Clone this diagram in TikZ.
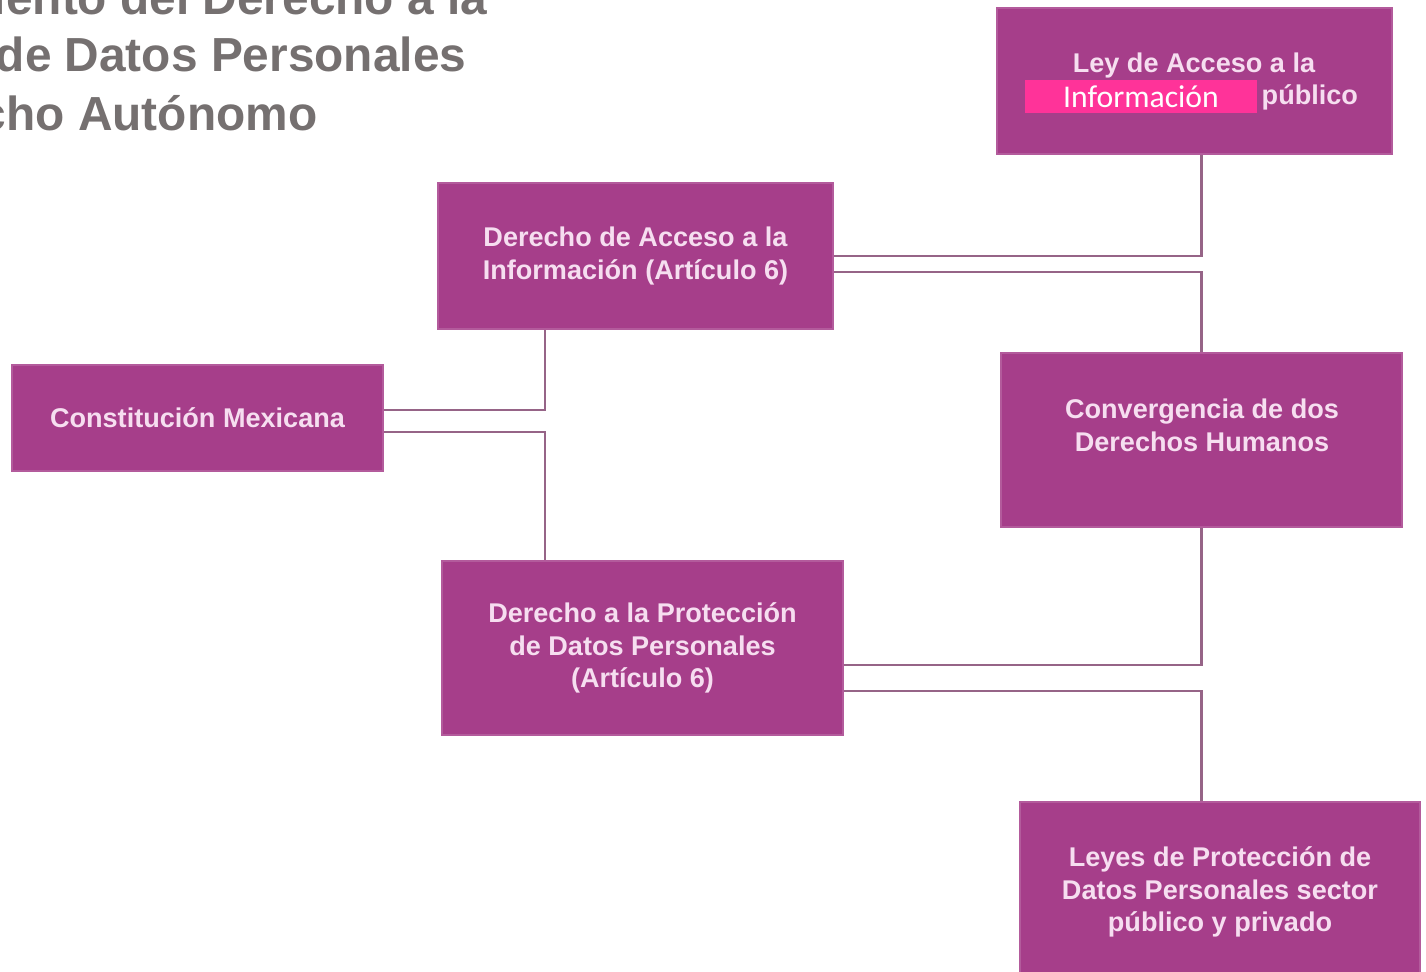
\documentclass[tikz,border=0pt]{standalone}
\usepackage{fontspec}
\setmainfont{Liberation Sans}
\newfontfamily\carlito{Carlito}
\usetikzlibrary{calc}

\definecolor{morado}{RGB}{166,62,138}
\definecolor{rosatexto}{RGB}{246,222,240}
\definecolor{rosafuerte}{RGB}{255,51,153}
\definecolor{gristitulo}{RGB}{117,112,112}
\definecolor{malva}{RGB}{150,100,135}

\begin{document}
\begin{tikzpicture}[x=0.01cm,y=-0.01cm,
  caja/.style={fill=morado,draw=morado!85!white,line width=0.4pt,inner sep=0pt,text=rosatexto,font=\fontsize{7.7pt}{9.3pt}\selectfont\bfseries,align=center},
  textocaja/.style={inner sep=0pt,text=rosatexto,font=\fontsize{7.7pt}{9.3pt}\selectfont\bfseries,align=center},
  resalte/.style={fill=rosafuerte,inner sep=0pt,minimum width=2.32cm,minimum height=0.33cm,text=white,font=\carlito\fontsize{9pt}{10pt}\selectfont},
  titulo/.style={inner sep=0pt,text=gristitulo,font=\fontsize{13.6pt}{16.2pt}\selectfont\bfseries},
  linea/.style={draw=malva,line width=0.6pt}]
 \useasboundingbox (0,0) rectangle (1426,972);
 \clip (0,0) rectangle (1426,972);

% title, cut at the left border
 \node[titulo,anchor=base east] (titulo1) at (488,14) {iento del Derecho a la};
 \node[titulo,anchor=base east] (titulo2) at (467,71) {de Datos Personales};
 \node[titulo,anchor=base east] (titulo3) at (318,130) {cho Autónomo};

% boxes
 \node[caja,minimum width=3.95cm,minimum height=1.46cm] (ley) at (1194.5,81) {};
 \node[caja,minimum width=3.95cm,minimum height=1.46cm] (acceso) at (635.5,256) {Derecho de Acceso a la\\Información (Artículo 6)};
 \node[caja,minimum width=3.71cm,minimum height=1.06cm] (const) at (197.5,418) {Constitución Mexicana};
 \node[caja,minimum width=4.01cm,minimum height=1.74cm] (conv) at (1201.5,440) {};
 \node[caja,minimum width=4.01cm,minimum height=1.74cm] (protec) at (642.5,648) {Derecho a la Protección\\de Datos Personales\\(Artículo 6)};
 \node[caja,minimum width=4.00cm,minimum height=1.80cm] (leyes) at (1220,892) {Leyes de Protección de\\Datos Personales sector\\público y privado};

% texts of the upper right boxes
 \node[textocaja,anchor=base] (leytxt) at (1194,72) {Ley de Acceso a la};
 \node[resalte] (info) at (1141,96.5) {Información};
 \node[textocaja,anchor=base west] (publico) at (1261,104) {público};
 \node[textocaja] (convtxt) at (1202,425) {Convergencia de dos\\Derechos Humanos};

% connectors
 \draw[linea] (acceso.east) -| (ley.south -| conv.north);
 \draw[linea] ([yshift=-0.16cm]acceso.east) -| (conv.north);
 \draw[linea] ([yshift=0.08cm]const.east) -| ([xshift=-0.905cm]acceso.south);
 \draw[linea] ([yshift=-0.14cm]const.east) -| ([xshift=-0.975cm]protec.north);
 \draw[linea] ([yshift=-0.17cm]protec.east) -| (conv.south);
 \draw[linea] ([yshift=-0.43cm]protec.east) -| (leyes.north -| conv.south);
\end{tikzpicture}
\end{document}
